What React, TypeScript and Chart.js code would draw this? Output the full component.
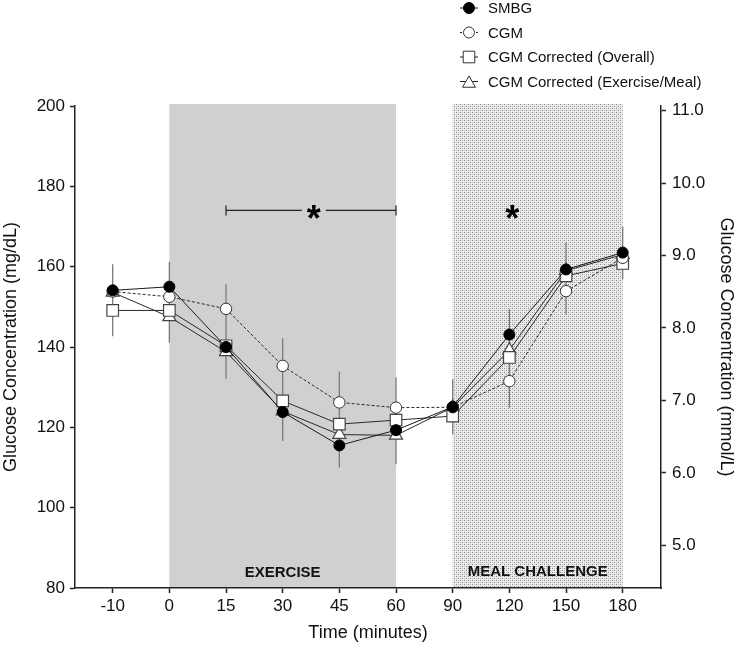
import React, { useEffect, useRef } from 'react';
import { Chart, registerables } from 'chart.js';

Chart.register(...registerables);

// ---- data ----
const timeLabels = ['-10', '0', '15', '30', '45', '60', '90', '120', '150', '180'];
const smbg = [154.1, 155.0, 140.0, 123.8, 115.5, 119.3, 125.1, 143.1, 159.3, 163.5];
const cgm = [153.8, 152.5, 149.5, 135.3, 126.2, 124.9, 125.0, 131.5, 153.9, 162.2];
const cgmOverall = [149.1, 149.1, 140.3, 126.6, 120.8, 121.8, 122.8, 137.4, 157.7, 160.8];
const cgmExMeal = [153.6, 147.5, 138.8, 124.0, 118.2, 118.0, 125.0, 139.2, 159.0, 163.0];
const errLow = [142.7, 141.1, 132.1, 116.6, 110.0, 110.8, 118.3, 124.9, 148.1, 156.8];
const errHigh = [160.6, 161.2, 155.6, 142.2, 133.9, 132.5, 132.0, 149.4, 166.0, 170.0];
const leftTicks = [80, 100, 120, 140, 160, 180, 200];
const rightTicks = [5, 6, 7, 8, 9, 10, 11];
const seriesNames = ['SMBG', 'CGM', 'CGM Corrected (Overall)', 'CGM Corrected (Exercise/Meal)'];
const exerciseSpan = [1, 5];
const mealSpan = [6, 9];
const phaseLabels = ['EXERCISE', 'MEAL CHALLENGE'];
const sigBracketSpan = [2, 5];
const sigBracketValue = 174;
const sigStars = [3.55, 7.05];

const FONT = "'Liberation Sans', Arial, Helvetica, sans-serif";

const toXY = (arr: number[]) => arr.map((v, i) => ({ x: i, y: v }));

function drawMarker(ctx: CanvasRenderingContext2D, style: string, x: number, y: number, fill: string, stroke: string) {
  ctx.save();
  ctx.fillStyle = fill;
  ctx.strokeStyle = stroke;
  ctx.lineWidth = 1;
  ctx.setLineDash([]);
  ctx.beginPath();
  if (style === 'circle') {
    ctx.arc(x, y, 5.5, 0, Math.PI * 2);
  } else if (style === 'rect') {
    ctx.rect(x - 5.8, y - 5.8, 11.6, 11.6);
  } else {
    const r = 7.5;
    ctx.moveTo(x, y - r);
    ctx.lineTo(x + r * Math.sin((2 * Math.PI) / 3), y - r * Math.cos((2 * Math.PI) / 3));
    ctx.lineTo(x + r * Math.sin((4 * Math.PI) / 3), y - r * Math.cos((4 * Math.PI) / 3));
    ctx.closePath();
  }
  ctx.fill();
  ctx.stroke();
  ctx.restore();
}

export default function App() {
  const ref = useRef<HTMLCanvasElement | null>(null);

  useEffect(() => {
    if (!ref.current) return;
    const canvas = ref.current;
    const ctx0 = canvas.getContext('2d')!;

    // stipple pattern for meal challenge
    const pc = document.createElement('canvas');
    pc.width = 4;
    pc.height = 4;
    const p = pc.getContext('2d')!;
    p.fillStyle = '#ebebeb';
    p.fillRect(0, 0, 4, 4);
    p.fillStyle = '#8a8a8a';
    p.fillRect(0, 0, 1, 1);
    p.fillRect(2, 2, 1, 1);
    p.fillStyle = '#c4c4c4';
    p.fillRect(2, 0, 1, 1);
    p.fillRect(0, 2, 1, 1);
    const pattern = ctx0.createPattern(pc, 'repeat');

    const backgroundPlugin = {
      id: 'phases',
      beforeDraw(chart: any) {
        const { ctx, chartArea, scales } = chart;
        const xs = scales.x;
        ctx.save();
        ctx.fillStyle = '#d0d0d0';
        const ex0 = xs.getPixelForValue(exerciseSpan[0]);
        const ex1 = xs.getPixelForValue(exerciseSpan[1]);
        ctx.fillRect(ex0, chartArea.top - 2, ex1 - ex0, chartArea.bottom - chartArea.top + 2);
        const m0 = xs.getPixelForValue(mealSpan[0]);
        const m1 = xs.getPixelForValue(mealSpan[1]);
        ctx.fillStyle = pattern || '#dddddd';
        ctx.fillRect(m0, chartArea.top - 2, m1 - m0, chartArea.bottom - chartArea.top + 2);

        ctx.fillStyle = '#111';
        ctx.font = `bold 15px ${FONT}`;
        ctx.textAlign = 'center';
        ctx.textBaseline = 'middle';
        ctx.fillText(phaseLabels[0], (ex0 + ex1) / 2, chartArea.bottom - 15);
        ctx.fillText(phaseLabels[1], (m0 + m1) / 2, chartArea.bottom - 16);
        ctx.restore();
      },
      beforeDatasetsDraw(chart: any) {
        const { ctx, scales } = chart;
        const xs = scales.x;
        const ys = scales.y;
        ctx.save();
        // error bars
        ctx.strokeStyle = '#7a7a7a';
        ctx.lineWidth = 1.3;
        for (let i = 0; i < errLow.length; i++) {
          const x = xs.getPixelForValue(i);
          ctx.beginPath();
          ctx.moveTo(x, ys.getPixelForValue(errLow[i]));
          ctx.lineTo(x, ys.getPixelForValue(errHigh[i]));
          ctx.stroke();
        }
        // significance bracket
        const bx0 = xs.getPixelForValue(sigBracketSpan[0]);
        const bx1 = xs.getPixelForValue(sigBracketSpan[1]);
        const by = ys.getPixelForValue(sigBracketValue);
        const sx = xs.getPixelForValue(sigStars[0]);
        ctx.strokeStyle = '#222';
        ctx.lineWidth = 1.2;
        ctx.beginPath();
        ctx.moveTo(bx0, by);
        ctx.lineTo(sx - 12, by);
        ctx.moveTo(sx + 12, by);
        ctx.lineTo(bx1, by);
        ctx.moveTo(bx0, by - 5);
        ctx.lineTo(bx0, by + 5);
        ctx.moveTo(bx1, by - 5);
        ctx.lineTo(bx1, by + 5);
        ctx.stroke();
        ctx.fillStyle = '#000';
        ctx.font = `bold 36px ${FONT}`;
        ctx.textAlign = 'center';
        ctx.textBaseline = 'alphabetic';
        for (const s of sigStars) {
          ctx.fillText('*', xs.getPixelForValue(s), by + 21);
        }
        ctx.restore();
      },
      afterDraw(chart: any) {
        const { ctx } = chart;
        const rows = [8, 32.5, 57, 81.5];
        const styles = ['circle', 'circle', 'rect', 'triangle'];
        const fills = ['#000', '#fff', '#fff', '#fff'];
        ctx.save();
        for (let i = 0; i < 4; i++) {
          const y = rows[i];
          ctx.strokeStyle = '#222';
          ctx.lineWidth = 1;
          ctx.setLineDash(i === 1 ? [2, 2] : []);
          ctx.beginPath();
          ctx.moveTo(460, y);
          ctx.lineTo(478, y);
          ctx.stroke();
          drawMarker(ctx, styles[i], 469, i === 3 ? y + 2 : y, fills[i], i === 0 ? '#000' : '#333');
          ctx.fillStyle = '#111';
          ctx.font = `15px ${FONT}`;
          ctx.textAlign = 'left';
          ctx.textBaseline = 'middle';
          ctx.fillText(seriesNames[i], 488, y + 1);
        }
        ctx.restore();
      },
    };

    const axisColor = '#222';
    const tickFont = { family: FONT, size: 17 };
    const titleFont = { family: FONT, size: 18 };

    const chart = new Chart(canvas, {
      type: 'line',
      data: {
        datasets: [
          {
            label: seriesNames[0],
            data: toXY(smbg),
            borderColor: '#1a1a1a',
            borderWidth: 1,
            pointStyle: 'circle',
            pointRadius: 5.5,
            pointBackgroundColor: '#000',
            pointBorderColor: '#000',
            pointBorderWidth: 1,
            yAxisID: 'y',
          },
          {
            label: seriesNames[1],
            data: toXY(cgm),
            borderColor: '#2a2a2a',
            borderWidth: 1,
            borderDash: [3, 2],
            pointStyle: 'circle',
            pointRadius: 5.7,
            pointBackgroundColor: '#fff',
            pointBorderColor: '#333',
            pointBorderWidth: 1,
            yAxisID: 'y',
          },
          {
            label: seriesNames[2],
            data: toXY(cgmOverall),
            borderColor: '#2a2a2a',
            borderWidth: 1,
            pointStyle: 'rect',
            pointRadius: 8.2,
            pointBackgroundColor: '#fff',
            pointBorderColor: '#444',
            pointBorderWidth: 1.2,
            yAxisID: 'y',
          },
          {
            label: seriesNames[3],
            data: toXY(cgmExMeal),
            borderColor: '#2a2a2a',
            borderWidth: 1,
            pointStyle: 'triangle',
            pointRadius: 7.5,
            pointBackgroundColor: '#fff',
            pointBorderColor: '#444',
            pointBorderWidth: 1.2,
            yAxisID: 'y',
          },
        ],
      },
      options: {
        responsive: false,
        animation: false,
        devicePixelRatio: 1,
        layout: { padding: { top: 106, left: 0, right: 0, bottom: 0 } },
        plugins: { legend: { display: false }, tooltip: { enabled: false } },
        scales: {
          x: {
            type: 'linear',
            position: 'bottom',
            min: -0.665,
            max: 9.676,
            afterBuildTicks: (s: any) => {
              s.ticks = timeLabels.map((_, i) => ({ value: i }));
            },
            afterFit: (s: any) => {
              s.height = 66;
            },
            ticks: {
              callback: (v: any) => timeLabels[Math.round(Number(v))],
              font: tickFont,
              color: '#111',
              padding: 3,
              maxRotation: 0,
              autoSkip: false,
            },
            grid: { drawOnChartArea: false, drawTicks: true, tickLength: 5, tickColor: axisColor, tickWidth: 1.5 },
            border: { display: true, color: axisColor, width: 1.5 },
            title: { display: true, text: 'Time (minutes)', font: titleFont, color: '#111', padding: { top: 0, bottom: 10 } },
          },
          y: {
            type: 'linear',
            position: 'left',
            min: 80,
            max: 200,
            afterBuildTicks: (s: any) => {
              s.ticks = leftTicks.map((v) => ({ value: v }));
            },
            afterFit: (s: any) => {
              s.width = 75;
            },
            ticks: { font: tickFont, color: '#111', padding: 5 },
            grid: { drawOnChartArea: false, drawTicks: true, tickLength: 5, tickColor: axisColor, tickWidth: 1.5 },
            border: { display: true, color: axisColor, width: 1.5 },
            title: { display: true, text: 'Glucose Concentration (mg/dL)', font: titleFont, color: '#111', padding: { top: 0, bottom: 0 } },
          },
          y2: {
            type: 'linear',
            position: 'right',
            display: true,
            min: 4.41,
            max: 11.065,
            afterBuildTicks: (s: any) => {
              s.ticks = rightTicks.map((v) => ({ value: v }));
            },
            afterFit: (s: any) => {
              s.width = 76;
            },
            ticks: { font: tickFont, color: '#111', padding: 6, callback: (v: any) => Number(v).toFixed(1) },
            grid: { drawOnChartArea: false, drawTicks: true, tickLength: 5, tickColor: axisColor, tickWidth: 1.5 },
            border: { display: true, color: axisColor, width: 1.5 },
            title: { display: true, text: 'Glucose Concentration (mmol/L)', font: titleFont, color: '#111', padding: { top: 0, bottom: 0 } },
          },
        },
      } as any,
      plugins: [backgroundPlugin as any],
    });

    return () => chart.destroy();
  }, []);

  return (
    <div style={{ position: 'absolute', left: 0, top: 0, width: 737, height: 654, background: '#fff' }}>
      <canvas ref={ref} width={737} height={654} style={{ display: 'block' }} />
    </div>
  );
}
